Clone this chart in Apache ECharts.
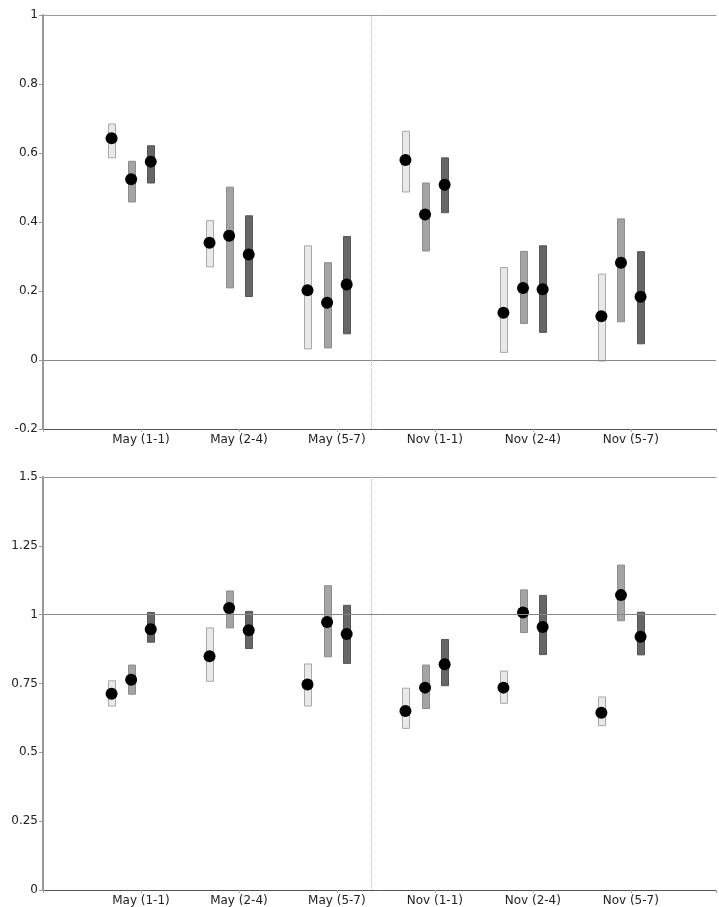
<!DOCTYPE html>
<html>
<head>
<meta charset="utf-8">
<script src="https://cdn.jsdelivr.net/npm/echarts@6/dist/echarts.min.js"></script>
<style>
  html, body { margin: 0; padding: 0; background: #fff; }
  #chart { width: 719px; height: 907px; }
</style>
</head>
<body>
<div id="chart"></div>
<script>
// Group labels along the x axis
const categories = ['May (1-1)', 'May (2-4)', 'May (5-7)', 'Nov (1-1)', 'Nov (2-4)', 'Nov (5-7)'];

// Upper panel: [low, estimate, high] per group, three levels
const upperLight  = [[0.586, 0.643, 0.684], [0.270, 0.340, 0.404], [0.032, 0.202, 0.331], [0.487, 0.580, 0.663], [0.022, 0.137, 0.268], [-0.003, 0.127, 0.249]];
const upperMedium = [[0.458, 0.524, 0.576], [0.209, 0.360, 0.501], [0.035, 0.166, 0.282], [0.316, 0.422, 0.513], [0.106, 0.209, 0.315], [0.111, 0.282, 0.409]];
const upperDark   = [[0.513, 0.575, 0.621], [0.184, 0.306, 0.418], [0.076, 0.219, 0.358], [0.427, 0.508, 0.586], [0.080, 0.205, 0.331], [0.047, 0.183, 0.314]];

// Lower panel: [low, estimate, high] per group, three levels
const lowerLight  = [[0.668, 0.713, 0.760], [0.758, 0.849, 0.952], [0.668, 0.746, 0.821], [0.587, 0.650, 0.733], [0.678, 0.735, 0.795], [0.597, 0.644, 0.701]];
const lowerMedium = [[0.711, 0.764, 0.817], [0.952, 1.024, 1.086], [0.847, 0.973, 1.105], [0.659, 0.735, 0.817], [0.935, 1.008, 1.090], [0.978, 1.071, 1.180]];
const lowerDark   = [[0.900, 0.947, 1.008], [0.877, 0.943, 1.012], [0.823, 0.930, 1.034], [0.742, 0.820, 0.910], [0.855, 0.955, 1.070], [0.854, 0.920, 1.009]];

// Y axis ranges and reference levels
const upperRange = { min: -0.2, max: 1, interval: 0.2, ref: 0 };
const lowerRange = { min: 0, max: 1.5, interval: 0.25, ref: 1 };
const dividerX = 3.35;
const xMax = 6.87;

const levelStyles = [
  { fill: '#e9e9e9', stroke: '#a8a8a8' },
  { fill: '#a4a4a4', stroke: '#8c8c8c' },
  { fill: '#666666', stroke: '#555555' }
];

const FONT = 'DejaVu Sans';

function xPos(i, s) {
  return i + 0.9 + (s - 1) * 0.2;
}

function makeAxes(gridIndex, range) {
  const xBottom = {
    type: 'value', gridIndex, min: 0, max: xMax, interval: 1, position: 'bottom',
    axisLine: { show: true, onZero: false, lineStyle: { color: '#555', width: 1 } },
    axisTick: { show: true, length: 3, lineStyle: { color: '#aaa' } },
    axisLabel: {
      color: '#222', fontFamily: FONT, fontSize: 12, margin: 5,
      formatter: v => (Number.isInteger(v) && categories[v - 1]) ? categories[v - 1] : ''
    },
    splitLine: { show: false }
  };
  const xTop = {
    type: 'value', gridIndex, min: 0, max: xMax, position: 'top',
    axisLine: { show: true, onZero: false, lineStyle: { color: '#999', width: 1 } },
    axisTick: { show: false }, axisLabel: { show: false }, splitLine: { show: false }
  };
  const y = {
    type: 'value', gridIndex, min: range.min, max: range.max, interval: range.interval,
    axisLine: { show: true, onZero: false, lineStyle: { color: '#999', width: 2 } },
    axisTick: { show: true, length: 4, lineStyle: { color: '#999' } },
    axisLabel: { color: '#222', fontFamily: FONT, fontSize: 12, margin: 5 },
    splitLine: { show: false }
  };
  return { xs: [xBottom, xTop], y };
}

function barSeries(xAxisIndex, yAxisIndex, rows, s) {
  const st = levelStyles[s];
  return {
    type: 'custom', xAxisIndex, yAxisIndex, z: 3, silent: true,
    data: rows.map((r, i) => [xPos(i, s), r[0], r[2]]),
    encode: { x: 0, y: [1, 2] },
    renderItem: (params, api) => {
      const x = api.value(0);
      const top = api.coord([x, api.value(2)]);
      const bot = api.coord([x, api.value(1)]);
      const w = 7;
      return {
        type: 'rect',
        shape: { x: Math.round(top[0] - w / 2) + 0.5, y: top[1], width: w, height: bot[1] - top[1] },
        style: { fill: st.fill, stroke: st.stroke, lineWidth: 1 }
      };
    }
  };
}

function dotSeries(xAxisIndex, yAxisIndex, rows, s) {
  return {
    type: 'scatter', xAxisIndex, yAxisIndex, z: 4, silent: true,
    symbol: 'circle', symbolSize: 12,
    itemStyle: { color: '#000', opacity: 1 },
    data: rows.map((r, i) => [xPos(i, s), r[1]])
  };
}

function guideSeries(xAxisIndex, yAxisIndex, range) {
  return {
    type: 'line', xAxisIndex, yAxisIndex, z: 1, data: [], silent: true,
    markLine: {
      silent: true, symbol: 'none', animation: false,
      label: { show: false },
      data: [
        { yAxis: range.ref, lineStyle: { color: '#888', type: 'solid', width: 1 } },
        { xAxis: dividerX, lineStyle: { color: '#bbb', type: [1, 1], width: 1 } }
      ]
    }
  };
}

const upperAxes = makeAxes(0, upperRange);
const lowerAxes = makeAxes(1, lowerRange);

const upperSets = [upperLight, upperMedium, upperDark];
const lowerSets = [lowerLight, lowerMedium, lowerDark];

const series = [];
series.push(guideSeries(0, 0, upperRange));
series.push(guideSeries(2, 1, lowerRange));
upperSets.forEach((rows, s) => series.push(barSeries(0, 0, rows, s)));
lowerSets.forEach((rows, s) => series.push(barSeries(2, 1, rows, s)));
upperSets.forEach((rows, s) => series.push(dotSeries(0, 0, rows, s)));
lowerSets.forEach((rows, s) => series.push(dotSeries(2, 1, rows, s)));

const chart = echarts.init(document.getElementById('chart'), null, { renderer: 'canvas' });
chart.setOption({
  animation: false,
  backgroundColor: '#fff',
  grid: [
    { left: 43, top: 15, width: 676, height: 414 },
    { left: 43, top: 477, width: 676, height: 413 }
  ],
  xAxis: [...upperAxes.xs, ...lowerAxes.xs],
  yAxis: [upperAxes.y, lowerAxes.y],
  series
});
</script>
</body>
</html>
